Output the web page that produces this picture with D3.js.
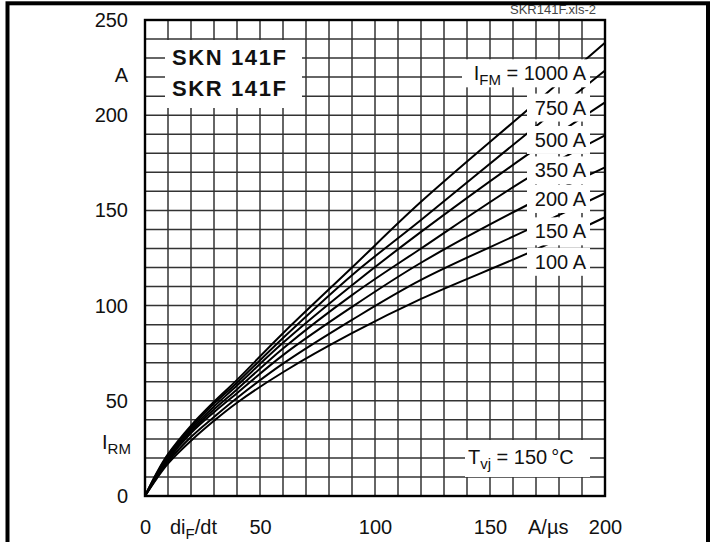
<!DOCTYPE html>
<html>
<head>
<meta charset="utf-8">
<script src="https://cdn.jsdelivr.net/npm/d3@7"></script>
<style>
  body { margin: 0; background: #fff; }
  text { font-family: "Liberation Sans", Arial, Helvetica, sans-serif; fill: #111; }
</style>
</head>
<body>
<svg id="chart"></svg>
<script>
// di_F/dt in A/us
const dIdt = [0, 5, 10, 20, 30, 40, 60, 90, 120, 166, 200];
// I_RM in A, one list per I_FM
const irm1000 = [0, 12, 22, 37, 49.5, 61, 85.5, 120, 154.5, 202.5, 238];
const irm750 = [0, 11.5, 21.5, 36, 48.5, 59.5, 83, 116, 145, 190.3, 223.5];
const irm500 = [0, 11, 21, 35, 47, 58, 80.5, 110.7, 138.7, 179, 206.7];
const irm350 = [0, 10.5, 20, 34, 45.5, 56, 77.5, 105.5, 130, 166.7, 189.4];
const irm200 = [0, 10, 19, 33, 44, 54, 74, 99.3, 122.5, 152.7, 172.6];
const irm150 = [0, 9.5, 18, 31, 41.5, 51.5, 69.5, 92.5, 113.5, 139.6, 159];
const irm100 = [0, 9, 17, 29, 39.5, 49, 65, 85.5, 103.5, 127.3, 146.4];
const series = [irm1000, irm750, irm500, irm350, irm200, irm150, irm100];

const xTicks = [0, 50, 100, 150, 200];
const yTicks = [0, 50, 100, 150, 200, 250];
const curveLabels = ["1000 A", "750 A", "500 A", "350 A", "200 A", "150 A", "100 A"];
const labelY = [222, 204, 187, 171, 156, 139, 123]; // label centres in A

const W = 716, H = 542;
const svg = d3.select("#chart").attr("width", W).attr("height", H);

const x = d3.scaleLinear().domain([0, 200]).range([145, 605]);
const y = d3.scaleLinear().domain([0, 250]).range([496, 20]);

// grid
const grid = svg.append("g").attr("stroke", "#333").attr("stroke-width", 1.5);
grid.selectAll(".gx").data(d3.range(10, 200, 10)).enter().append("line")
  .attr("x1", d => x(d)).attr("x2", d => x(d))
  .attr("y1", y(0)).attr("y2", y(250));
grid.selectAll(".gy").data(d3.range(10, 250, 10)).enter().append("line")
  .attr("y1", d => y(d)).attr("y2", d => y(d))
  .attr("x1", x(0)).attr("x2", x(200));

// curves
const line = d3.line()
  .x((d, i) => x(dIdt[i]))
  .y(d => y(d))
  .curve(d3.curveCatmullRom.alpha(0.5));

svg.append("g").selectAll("path").data(series).enter().append("path")
  .attr("d", d => line(d))
  .attr("fill", "none")
  .attr("stroke", "#000")
  .attr("stroke-width", 2);

// white label boxes
svg.append("rect").attr("x", 165).attr("y", 40).attr("width", 137).attr("height", 68).attr("fill", "#fff");

const lab = svg.append("g");
curveLabels.forEach(function (t, i) {
  const cy = y(labelY[i]);
  const left = i === 0 ? 462 : 527;
  lab.append("rect")
    .attr("x", left).attr("y", cy - 14)
    .attr("width", 590 - left).attr("height", 28)
    .attr("fill", "#fff");
  const txt = lab.append("text")
    .attr("x", 586).attr("y", cy + 7)
    .attr("text-anchor", "end")
    .attr("font-size", 20);
  if (i === 0) {
    txt.append("tspan").text("I");
    txt.append("tspan").attr("font-size", 15).attr("dy", 5).text("FM");
    txt.append("tspan").attr("dy", -5).text(" = " + t);
  } else {
    txt.text(t);
  }
});

svg.append("rect").attr("x", 465).attr("y", 440).attr("width", 125).attr("height", 37).attr("fill", "#fff");
const tvj = svg.append("text").attr("x", 468).attr("y", 464).attr("font-size", 20);
tvj.append("tspan").text("T");
tvj.append("tspan").attr("font-size", 15).attr("dy", 5).text("vj");
tvj.append("tspan").attr("dy", -5).text(" = 150\u2009°C");

svg.append("text").attr("x", 172).attr("y", 65).attr("font-size", 22)
  .attr("font-weight", "bold").attr("letter-spacing", 1.6).text("SKN 141F");
svg.append("text").attr("x", 172).attr("y", 96).attr("font-size", 22)
  .attr("font-weight", "bold").attr("letter-spacing", 1.6).text("SKR 141F");

// plot border
svg.append("rect")
  .attr("x", x(0)).attr("y", y(250))
  .attr("width", x(200) - x(0)).attr("height", y(0) - y(250))
  .attr("fill", "none").attr("stroke", "#000").attr("stroke-width", 2.4);

// axes (labels only)
const yAxis = svg.append("g").attr("transform", "translate(" + x(0) + ",0)")
  .call(d3.axisLeft(y).tickValues(yTicks).tickSize(0).tickPadding(17));
const xAxis = svg.append("g").attr("transform", "translate(0," + y(0) + ")")
  .call(d3.axisBottom(x).tickValues(xTicks).tickSize(0).tickPadding(24));
[yAxis, xAxis].forEach(function (a) {
  a.select(".domain").remove();
  a.selectAll("text").attr("font-size", 20)
    .attr("font-family", "'Liberation Sans', Arial, sans-serif").attr("fill", "#111");
});

svg.append("text").attr("x", 128).attr("y", 82).attr("text-anchor", "end").attr("font-size", 20).text("A");
const irm = svg.append("text").attr("x", 102).attr("y", 449).attr("font-size", 20);
irm.append("tspan").text("I");
irm.append("tspan").attr("font-size", 15).attr("dy", 5).text("RM");

const dif = svg.append("text").attr("x", 170).attr("y", 534).attr("font-size", 20);
dif.append("tspan").text("di");
dif.append("tspan").attr("font-size", 15).attr("dy", 5).text("F");
dif.append("tspan").attr("dy", -5).text("/dt");
svg.append("text").attr("x", 528).attr("y", 534).attr("font-size", 20).text("A/µs");

svg.append("text").attr("x", 596).attr("y", 14).attr("text-anchor", "end")
  .attr("font-size", 13).style("fill", "#444").text("SKR141F.xls-2");

// outer frame
svg.append("rect").attr("x", 7.5).attr("y", 3.3).attr("width", 700.5).attr("height", 600)
  .attr("fill", "none").attr("stroke", "#000").attr("stroke-width", 4);
</script>
</body>
</html>
